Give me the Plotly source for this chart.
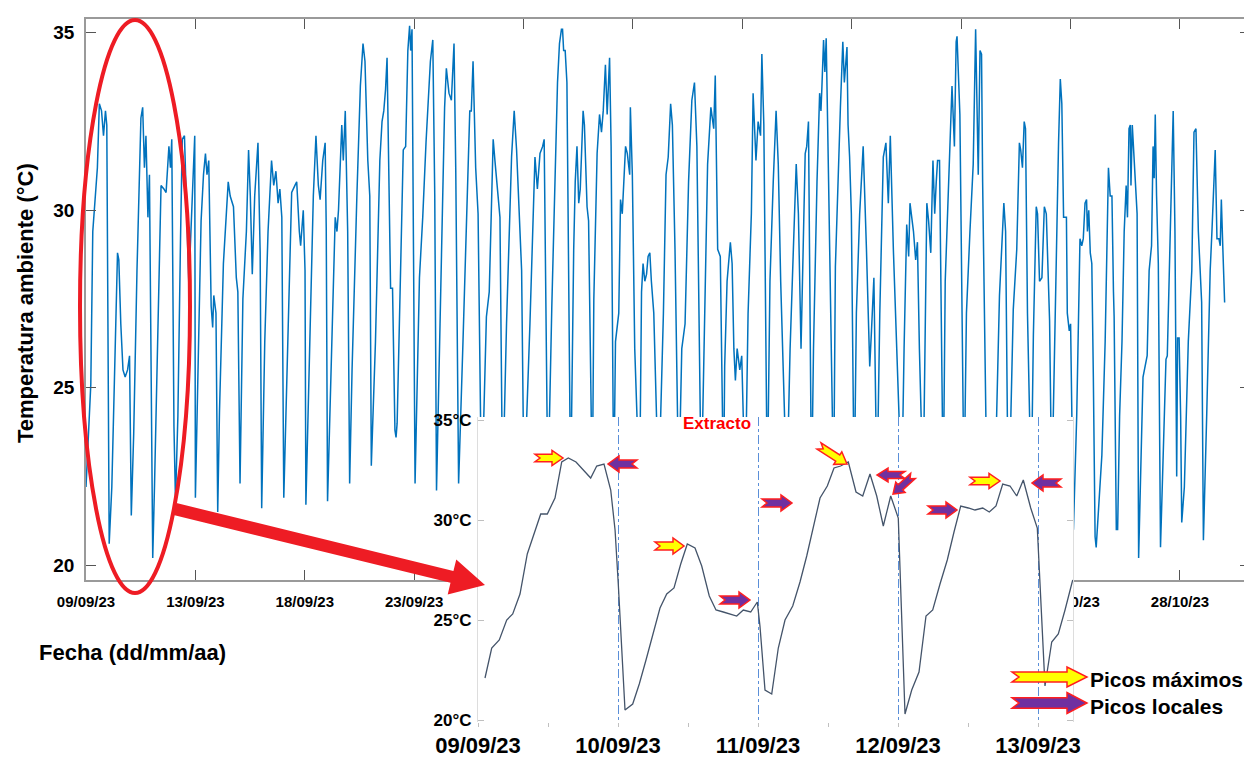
import plotly.graph_objects as go
import pandas as pd
from math import hypot

W, H = 1252, 757
DESP = 8  # margen del body de la pagina (px)
INICIO = pd.Timestamp("2023-09-09")
FUENTE = "Liberation Sans, Arial, sans-serif"

# Serie completa: (dias desde 09/09/23 00:00, temperatura en C)
sem1 = [(0.00, 22.2), (0.11, 23.7), (0.22, 25.1), (0.31, 29.4), (0.41, 30.3), (0.52, 31.2), (0.61, 33.0),
        (0.71, 32.8), (0.80, 32.1), (0.89, 32.8), (0.95, 32.4), (1.06, 20.6), (1.18, 22.2), (1.33, 26.5),
        (1.44, 28.8), (1.50, 28.6), (1.59, 26.8), (1.69, 25.5), (1.79, 25.3), (1.90, 25.5), (1.99, 25.9),
        (2.07, 21.4), (2.18, 23.7), (2.33, 28.3), (2.51, 32.6), (2.59, 32.9), (2.67, 31.2), (2.74, 32.1),
        (2.83, 29.8), (2.90, 31.0), (2.97, 25.3), (3.05, 20.2), (3.13, 22.2), (3.25, 25.3), (3.43, 30.7),
        (3.56, 30.6), (3.66, 30.5), (3.79, 31.8), (3.86, 31.2), (3.92, 32.0), (4.02, 23.9), (4.09, 21.8),
        (4.20, 24.2), (4.32, 29.2), (4.40, 32.0), (4.50, 32.1), (4.60, 30.2), (4.70, 27.9), (4.86, 30.4),
        (4.97, 32.1), (5.00, 21.9), (5.10, 25.3), (5.26, 29.7), (5.37, 31.0), (5.46, 31.6), (5.53, 31.0),
        (5.61, 31.4), (5.72, 27.3), (5.79, 26.7), (5.84, 27.6), (5.94, 27.1), (6.02, 21.5), (6.10, 24.3),
        (6.28, 28.5), (6.50, 30.8), (6.59, 30.4), (6.74, 30.1), (6.87, 28.1), (6.94, 27.7)]

sem2 = [(7.04, 22.3), (7.17, 27.5), (7.33, 29.4), (7.43, 31.7), (7.51, 30.4), (7.60, 28.2), (7.71, 30.4),
        (7.86, 31.9), (7.96, 28.8), (8.03, 21.6), (8.17, 26.3), (8.32, 29.4), (8.48, 31.4), (8.58, 30.7),
        (8.68, 31.1), (8.78, 30.2), (8.86, 30.6), (8.95, 29.8), (9.04, 21.9), (9.17, 25.3), (9.40, 30.5),
        (9.55, 30.7), (9.63, 30.8), (9.75, 29.4), (9.81, 29.0), (9.93, 30.0), (10.01, 28.3), (10.05, 21.7),
        (10.24, 26.3), (10.39, 30.4), (10.51, 32.1), (10.62, 30.7), (10.70, 30.3), (10.82, 31.4),
        (10.93, 31.9), (10.98, 29.5), (11.04, 21.8), (11.19, 25.3), (11.39, 29.8), (11.47, 29.4),
        (11.54, 30.0), (11.69, 32.4), (11.76, 31.4), (11.85, 32.8), (11.96, 29.4), (12.05, 22.3),
        (12.16, 25.5), (12.38, 30.4), (12.54, 33.5), (12.66, 34.7), (12.75, 34.2), (12.88, 31.4),
        (12.97, 30.4), (13.04, 22.8), (13.23, 26.3), (13.43, 31.4), (13.53, 32.5), (13.61, 32.8),
        (13.69, 33.4), (13.76, 34.3), (13.84, 30.4), (13.92, 27.8), (14.01, 27.8)]

sem3 = [(14.12, 23.8), (14.17, 23.6), (14.22, 24.0), (14.37, 28.1), (14.50, 31.7), (14.61, 31.8),
        (14.71, 34.5), (14.79, 35.2), (14.84, 34.5), (14.90, 35.1), (14.94, 30.9), (15.04, 22.3),
        (15.24, 28.1), (15.39, 29.8), (15.54, 31.9), (15.74, 34.2), (15.85, 34.8), (15.94, 30.4),
        (16.02, 22.1), (16.16, 26.3), (16.39, 32.9), (16.47, 34.0), (16.59, 33.3), (16.70, 33.1),
        (16.82, 34.7), (16.90, 31.1), (17.03, 22.3), (17.23, 26.3), (17.54, 32.8), (17.61, 32.8),
        (17.69, 34.2), (17.81, 31.2), (17.92, 29.9), (18.08, 21.8), (18.30, 27.0), (18.43, 27.7),
        (18.61, 32.0), (18.69, 31.4), (18.80, 30.6), (18.92, 29.8), (19.04, 22.0), (19.22, 26.8),
        (19.45, 31.5), (19.57, 32.8), (19.68, 31.7), (19.80, 29.8), (19.91, 28.3), (20.02, 22.0),
        (20.29, 26.8), (20.52, 31.5), (20.63, 30.6), (20.75, 31.6), (20.87, 31.8), (20.94, 32.0)]

sem4 = [(21.01, 28.3), (21.11, 22.0), (21.29, 27.3), (21.45, 31.4), (21.55, 33.6), (21.64, 34.7),
        (21.73, 35.1), (21.78, 35.1), (21.83, 34.5), (21.90, 34.5), (21.98, 33.6), (22.15, 22.0),
        (22.21, 25.6), (22.29, 28.9), (22.36, 30.8), (22.44, 31.8), (22.52, 30.2), (22.59, 30.6),
        (22.72, 32.8), (22.78, 32.4), (22.90, 30.1), (22.97, 29.7), (23.14, 22.0), (23.21, 27.5),
        (23.36, 31.6), (23.47, 32.7), (23.56, 32.2), (23.64, 32.8), (23.74, 34.1), (23.82, 32.7),
        (23.93, 34.3), (24.00, 31.8), (24.12, 22.0), (24.20, 26.3), (24.35, 27.1), (24.43, 30.3),
        (24.51, 29.9), (24.66, 31.8), (24.74, 31.6), (24.85, 31.0), (24.88, 32.9), (24.97, 31.0),
        (25.08, 26.1), (25.30, 22.0), (25.39, 27.7), (25.46, 28.5), (25.54, 28.0), (25.62, 28.2),
        (25.69, 28.7), (25.77, 28.8), (25.84, 28.0), (25.95, 27.1), (26.17, 22.0), (26.39, 27.1),
        (26.51, 31.0), (26.61, 31.5), (26.72, 33.0), (26.80, 32.4), (26.92, 28.9), (27.09, 22.0),
        (27.23, 26.1), (27.38, 26.8), (27.54, 30.8), (27.69, 33.1), (27.81, 33.6), (27.92, 31.8)]

sem5 = [(28.12, 22.0), (28.22, 25.6), (28.41, 31.3), (28.56, 32.9), (28.69, 32.3), (28.76, 33.8),
        (28.87, 28.9), (28.99, 28.7), (29.14, 22.0), (29.19, 25.6), (29.30, 28.0), (29.45, 29.1),
        (29.53, 28.5), (29.61, 26.1), (29.68, 25.2), (29.76, 26.1), (29.88, 25.5), (29.97, 25.9),
        (30.13, 22.0), (30.26, 27.1), (30.41, 29.9), (30.49, 33.3), (30.62, 31.4), (30.72, 32.5),
        (30.83, 32.1), (30.89, 34.4), (30.98, 32.4), (31.14, 22.0), (31.26, 28.0), (31.41, 30.8),
        (31.54, 32.8), (31.64, 31.3), (31.75, 28.0), (32.03, 22.0), (32.18, 26.1), (32.33, 28.9),
        (32.46, 31.3), (32.56, 29.9), (32.68, 26.1), (32.87, 31.6), (32.94, 31.8), (33.02, 32.5),
        (33.16, 22.0), (33.25, 26.1), (33.41, 30.8), (33.53, 33.3), (33.59, 32.8), (33.63, 33.4),
        (33.71, 34.8), (33.77, 33.9), (33.83, 34.85), (33.94, 30.8), (34.05, 26.1), (34.17, 22.0),
        (34.25, 28.4), (34.40, 31.8), (34.48, 32.9), (34.59, 34.75), (34.66, 33.6), (34.78, 34.6),
        (34.83, 32.4), (34.90, 31.5), (34.98, 29.9)]

sem6 = [(35.11, 22.0), (35.21, 27.1), (35.36, 29.9), (35.52, 31.8), (35.67, 28.9), (35.82, 25.6),
        (35.90, 26.6), (36.01, 28.1), (36.15, 22.0), (36.28, 27.1), (36.44, 31.5), (36.56, 31.9),
        (36.67, 30.2), (36.76, 32.1), (36.90, 28.9), (37.02, 26.8), (37.28, 22.0), (37.39, 26.1),
        (37.51, 29.6), (37.60, 28.7), (37.66, 30.2), (37.82, 29.4), (37.92, 28.6), (38.00, 29.1),
        (38.09, 26.1), (38.26, 22.0), (38.35, 27.1), (38.43, 30.2), (38.51, 29.7), (38.61, 28.8),
        (38.71, 31.4), (38.79, 29.9), (38.86, 30.8), (38.92, 31.4), (39.01, 31.4), (39.18, 22.0),
        (39.27, 28.0), (39.42, 30.8), (39.58, 33.5), (39.69, 31.8), (39.77, 34.75), (39.81, 34.9),
        (39.94, 32.7), (40.13, 22.0), (40.24, 27.1), (40.40, 29.4), (40.55, 31.3), (40.66, 35.1),
        (40.73, 32.9), (40.78, 31.0), (40.86, 34.5), (40.93, 34.4), (40.98, 30.8), (41.20, 21.0),
        (41.50, 23.0), (41.62, 24.2), (41.75, 27.6), (41.84, 28.9), (41.95, 30.2)]

sem7 = [(42.03, 29.4), (42.11, 24.2), (42.19, 22.0), (42.38, 27.2), (42.54, 28.9), (42.66, 31.9),
        (42.72, 31.7), (42.80, 31.2), (42.88, 32.5), (42.94, 32.3), (43.03, 27.1), (43.20, 22.0),
        (43.30, 26.5), (43.43, 30.1), (43.49, 29.9), (43.58, 28.0), (43.69, 28.1), (43.80, 30.1),
        (43.89, 29.9), (44.00, 27.5), (44.04, 26.9), (44.14, 22.0), (44.30, 27.3), (44.45, 31.9),
        (44.53, 33.7), (44.60, 33.0), (44.68, 29.8), (44.81, 29.8), (44.85, 27.1), (44.94, 26.6),
        (45.00, 26.8), (45.13, 21.0), (45.28, 24.2), (45.43, 29.2), (45.51, 29.0), (45.58, 29.2),
        (45.66, 30.2), (45.73, 30.3), (45.77, 29.4), (45.83, 30.0), (45.90, 28.8), (45.97, 28.5),
        (46.04, 25.3), (46.12, 20.8), (46.17, 20.5), (46.27, 21.4), (46.43, 23.1), (46.58, 26.3),
        (46.66, 29.4), (46.73, 31.2), (46.81, 30.4), (46.89, 30.4), (46.96, 27.7), (46.99, 27.0),
        (47.09, 21.0), (47.15, 21.0), (47.24, 24.2), (47.35, 26.3), (47.45, 29.4), (47.54, 30.7),
        (47.60, 29.8), (47.67, 32.3), (47.73, 32.4), (47.76, 30.7), (47.82, 32.4), (47.91, 31.4),
        (48.04, 29.9), (48.11, 20.2), (48.19, 22.2), (48.31, 25.3), (48.50, 25.9), (48.59, 28.3),
        (48.70, 29.0), (48.77, 31.8), (48.82, 30.9), (48.87, 32.7), (48.93, 30.4)]

sem8 = [(49.01, 28.5), (49.11, 20.5), (49.20, 22.2), (49.36, 25.8), (49.42, 25.9), (49.54, 29.4),
        (49.63, 31.4), (49.69, 32.8), (49.77, 29.4), (49.85, 22.5), (49.89, 26.4), (49.96, 26.4),
        (50.03, 24.2), (50.08, 21.2), (50.20, 22.2), (50.38, 26.3), (50.54, 28.3), (50.64, 32.2),
        (50.73, 32.3), (50.84, 29.4), (50.99, 27.4), (51.07, 20.7), (51.22, 24.2), (51.38, 28.3),
        (51.46, 29.4), (51.53, 30.6), (51.61, 31.7), (51.69, 29.2), (51.78, 29.2), (51.84, 29.0),
        (51.89, 30.3), (51.96, 28.9), (52.04, 27.4)]

# Extracto 09/09 - 13/09 (dias desde 09/09/23 00:00, temperatura en C)
extracto = [(0.050, 22.1), (0.098, 23.6), (0.152, 24.0), (0.205, 25.0), (0.248, 25.3), (0.300, 26.3),
            (0.352, 28.3), (0.400, 29.3), (0.448, 30.3), (0.495, 30.3), (0.550, 31.1), (0.598, 32.9),
            (0.645, 33.1), (0.700, 32.9), (0.752, 32.5), (0.805, 32.1), (0.848, 32.7), (0.900, 32.8),
            (0.948, 31.5), (0.979, 29.5), (1.002, 26.8), (1.050, 20.5), (1.105, 20.8), (1.152, 21.8),
            (1.200, 23.0), (1.248, 24.2), (1.300, 25.6), (1.348, 26.3), (1.400, 26.6), (1.448, 27.8),
            (1.495, 28.8), (1.550, 28.6), (1.598, 27.7), (1.652, 26.2), (1.700, 25.5), (1.752, 25.4),
            (1.800, 25.3), (1.848, 25.2), (1.895, 25.5), (1.948, 25.4), (1.995, 25.9), (2.014, 24.7),
            (2.050, 21.5), (2.098, 21.3), (2.145, 23.6), (2.193, 25.0), (2.248, 25.7), (2.300, 26.9),
            (2.348, 28.2), (2.395, 29.6), (2.443, 31.1), (2.495, 31.7), (2.543, 32.6), (2.590, 32.7),
            (2.645, 32.9), (2.700, 31.4), (2.748, 31.2), (2.800, 32.3), (2.848, 31.2), (2.895, 29.7),
            (2.948, 31.2), (3.002, 30.1), (3.050, 20.3), (3.098, 21.5), (3.150, 22.4), (3.200, 25.2),
            (3.248, 25.5), (3.300, 26.8), (3.352, 28.0), (3.400, 29.4), (3.448, 30.7), (3.502, 30.6),
            (3.550, 30.5), (3.605, 30.6), (3.652, 30.4), (3.700, 30.7), (3.748, 31.8), (3.800, 31.7),
            (3.848, 31.2), (3.895, 32.0), (3.948, 30.6), (3.995, 29.6), (4.019, 26.2), (4.050, 21.7),
            (4.098, 23.9), (4.145, 24.3), (4.193, 25.5), (4.248, 27.0)]

ticks_fecha = ["2023-09-09", "2023-09-14", "2023-09-19", "2023-09-24", "2023-09-29", "2023-10-04",
               "2023-10-09", "2023-10-14", "2023-10-19", "2023-10-24", "2023-10-29"]
ticks_texto = ["09/09/23", "13/09/23", "18/09/23", "23/09/23", "28/09/23", "03/10/23",
               "08/10/23", "13/10/23", "18/10/23", "23/10/23", "28/10/23"]
ticks_temp = [20, 25, 30, 35]
ticks_temp_ext = ["20°C", "25°C", "30°C", "35°C"]


def px(x):
    return (x - DESP) / W


def py(y):
    return (H - (y - DESP)) / H


def fechas(dias):
    return [INICIO + pd.Timedelta(days=d) for d in dias]


def flecha(tx, ty, hx, hy, ancho, relleno, cabeza, muesca, cuerpo=0.5,
           borde="#ff1f1f", grosor=1.5):
    """Flecha de bloque (con muesca en la cola) en coordenadas de pixel."""
    L = hypot(hx - tx, hy - ty)
    ux, uy = (hx - tx) / L, (hy - ty) / L
    nx, ny = -uy, ux
    a, s = ancho / 2, ancho * cuerpo / 2
    bx, by = hx - ux * cabeza, hy - uy * cabeza
    pts = [(tx + nx * s, ty + ny * s), (bx + nx * s, by + ny * s), (bx + nx * a, by + ny * a),
           (hx, hy), (bx - nx * a, by - ny * a), (bx - nx * s, by - ny * s),
           (tx - nx * s, ty - ny * s), (tx + ux * muesca, ty + uy * muesca)]
    path = "M " + " L ".join(f"{px(x):.5f},{py(y):.5f}" for x, y in pts) + " Z"
    return dict(type="path", xref="paper", yref="paper", path=path, fillcolor=relleno,
                line=dict(color=borde, width=grosor), layer="above")


def texto(t, x, y, size, xanchor="center", color="black", angle=0):
    return dict(text=t, x=px(x), y=py(y), xref="paper", yref="paper", showarrow=False,
                xanchor=xanchor, yanchor="middle", textangle=angle,
                font=dict(size=size, color=color, weight="bold"))


serie = sem1 + sem2 + sem3 + sem4 + sem5 + sem6 + sem7 + sem8
dias, temps = zip(*serie)
dias_ext, temps_ext = zip(*extracto)

fig = go.Figure()
fig.add_trace(go.Scatter(
    x=fechas(dias), y=temps, mode="lines",
    line=dict(color="#0072BD", width=1.5),
    xaxis="x", yaxis="y", showlegend=False
))
fig.add_trace(go.Scatter(
    x=fechas(dias_ext), y=temps_ext, mode="lines",
    line=dict(color="#44546a", width=1.3),
    xaxis="x2", yaxis="y2", showlegend=False
))

AMARILLO = "#ffff00"
MORADO = "#7030a0"
shapes = [
    # elipse y flecha roja
    dict(type="circle", xref="paper", yref="paper", x0=px(80), x1=px(190), y0=py(593), y1=py(20),
         line=dict(color="#ee1c24", width=4), layer="above"),
    flecha(175, 509, 485, 585, 36, "#ee1c24", cabeza=34, muesca=0, cuerpo=0.34,
           borde="#ee1c24", grosor=0),
    # picos maximos
    flecha(535, 458, 563, 458, 15, AMARILLO, 11, 5),
    flecha(655, 546, 684, 546, 16, AMARILLO, 11, 5),
    flecha(819, 446, 847, 464, 15, AMARILLO, 11, 5),
    flecha(970, 481, 1000, 481, 15, AMARILLO, 11, 5),
    # picos locales
    flecha(637, 464, 608, 464, 16, MORADO, 11, 5),
    flecha(720, 600, 750, 600, 16, MORADO, 11, 5),
    flecha(762, 503, 792, 503, 16, MORADO, 11, 5),
    flecha(905, 475, 877, 475, 14, MORADO, 11, 5),
    flecha(913, 476, 893, 494, 14, MORADO, 10, 4),
    flecha(928, 510, 957, 510, 16, MORADO, 11, 5),
    flecha(1061, 483, 1032, 483, 16, MORADO, 11, 5),
    # leyenda
    flecha(1012, 677, 1087, 677, 20, AMARILLO, 20, 7),
    flecha(1012, 703, 1087, 703, 21, MORADO, 20, 7),
]

annotations = [
    texto("Extracto", 717, 423, 17, color="#ff0000"),
    texto("Picos máximos", 1088, 679, 21, xanchor="left"),
    texto("Picos locales", 1088, 706, 21, xanchor="left"),
    texto("Fecha (dd/mm/aa)", 132, 652, 22),
    texto("Temperatura ambiente (°C)", 25, 303, 22, angle=-90),
]

fig.update_layout(
    width=W, height=H,
    margin=dict(l=0, r=0, t=0, b=0, autoexpand=False),
    paper_bgcolor="white", plot_bgcolor="white",
    font=dict(family=FUENTE, color="black"),
    xaxis=dict(
        domain=[px(86), px(1250)],
        range=[INICIO, INICIO + pd.Timedelta(days=53.2)],
        tickmode="array", tickvals=ticks_fecha, ticktext=ticks_texto,
        ticks="inside", ticklen=10, tickcolor="#555555",
        showline=True, linecolor="#9a9a9a", linewidth=1.5, mirror="ticks",
        showgrid=False, zeroline=False, automargin=False,
        tickfont=dict(size=15, weight="bold"), ticklabelstandoff=7
    ),
    yaxis=dict(
        domain=[py(580), py(19)],
        range=[19.58, 35.39],
        tickvals=ticks_temp,
        ticks="inside", ticklen=10, tickcolor="#555555",
        showline=True, linecolor="#9a9a9a", linewidth=1.5, mirror="ticks",
        showgrid=False, zeroline=False, automargin=False,
        tickfont=dict(size=19, weight="bold"), ticklabelstandoff=6
    ),
    xaxis2=dict(
        domain=[px(478), px(1073)], anchor="y2",
        range=[INICIO, INICIO + pd.Timedelta(days=4.25)],
        tickmode="linear", tick0="2023-09-09", dtick=86400000, tickformat="%d/%m/%y",
        showgrid=True, griddash="dashdot", gridcolor="#5b8fd8", gridwidth=1,
        ticks="outside", ticklen=4, tickcolor="#c0c0c0",
        minor=dict(dtick=43200000, ticks="outside", ticklen=4, tickcolor="#c0c0c0", showgrid=False),
        showline=False, zeroline=False, automargin=False,
        tickfont=dict(size=22, weight="bold")
    ),
    yaxis2=dict(
        domain=[py(722), py(417)], anchor="x2",
        range=[19.9, 35.15],
        tickvals=ticks_temp, ticktext=ticks_temp_ext,
        ticks="inside", ticklen=6, tickcolor="#bfbfbf",
        showline=True, linecolor="#dddddd", linewidth=1, mirror="ticks",
        showgrid=False, zeroline=False, automargin=False,
        tickfont=dict(size=17, weight="bold"), ticklabelstandoff=2
    ),
    shapes=shapes,
    annotations=annotations,
)

fig.write_html("out.html")
